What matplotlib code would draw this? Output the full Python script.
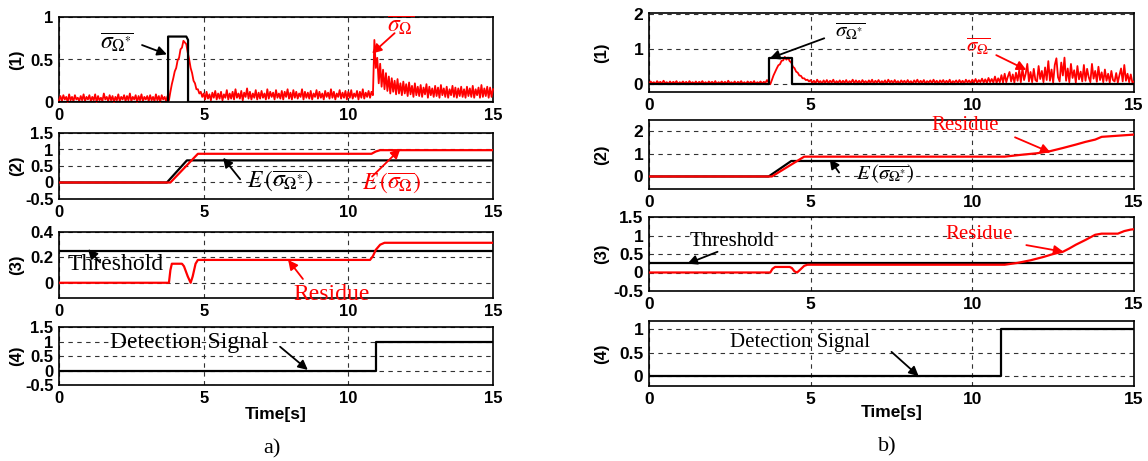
import numpy as np
import matplotlib
matplotlib.use('Agg')
import matplotlib.pyplot as plt

plt.rcParams['mathtext.fontset'] = 'stix'
plt.rcParams['font.family'] = ['Liberation Sans', 'DejaVu Sans']

# ---------------- data ----------------
time_grid = np.linspace(0, 15, 301)          # sampling grid, dt = 0.05 s
x_ticks = [0, 5, 10, 15]

# a) (1) measured sigma_Omega (red, noisy)
a_sigma = [
    0.02, 0.07, 0.01, 0.08, 0.03, 0.06, 0.00, 0.09, 0.02, 0.06, 0.01, 0.08, 0.03, 0.05, 0.01, 0.07, 0.02, 0.09, 0.01, 0.06,
    0.03, 0.08, 0.01, 0.06, 0.02, 0.09, 0.00, 0.07, 0.02, 0.05, 0.01, 0.10, 0.03, 0.06, 0.01, 0.08, 0.02, 0.07, 0.00, 0.06,
    0.02, 0.09, 0.01, 0.06, 0.03, 0.08, 0.01, 0.07, 0.02, 0.10, 0.01, 0.06, 0.03, 0.08, 0.00, 0.07, 0.02, 0.09, 0.01, 0.06,
    0.03, 0.07, 0.01, 0.08, 0.02, 0.06, 0.01, 0.09, 0.02, 0.07, 0.00, 0.08, 0.03, 0.06, 0.01, 0.07, 0.02, 0.12, 0.21, 0.28,
    0.36, 0.40, 0.49, 0.52, 0.62, 0.64, 0.72, 0.70, 0.68, 0.58, 0.50, 0.40, 0.34, 0.25, 0.22, 0.15, 0.15, 0.10, 0.12, 0.06,
    0.10, 0.03, 0.12, 0.04, 0.09, 0.02, 0.11, 0.05, 0.13, 0.03, 0.10, 0.04, 0.12, 0.02, 0.09, 0.05, 0.14, 0.03, 0.10, 0.04,
    0.12, 0.03, 0.15, 0.05, 0.10, 0.04, 0.13, 0.02, 0.11, 0.06, 0.16, 0.04, 0.12, 0.03, 0.10, 0.05, 0.14, 0.03, 0.11, 0.04,
    0.13, 0.05, 0.10, 0.03, 0.15, 0.04, 0.12, 0.06, 0.11, 0.03, 0.14, 0.05, 0.10, 0.04, 0.13, 0.03, 0.12, 0.06, 0.15, 0.04,
    0.11, 0.03, 0.14, 0.05, 0.12, 0.04, 0.10, 0.06, 0.15, 0.03, 0.12, 0.05, 0.11, 0.04, 0.13, 0.03, 0.10, 0.06, 0.14, 0.04,
    0.12, 0.05, 0.10, 0.03, 0.13, 0.06, 0.11, 0.04, 0.15, 0.05, 0.12, 0.03, 0.10, 0.06, 0.14, 0.04, 0.11, 0.05, 0.13, 0.03,
    0.12, 0.05, 0.14, 0.04, 0.10, 0.06, 0.13, 0.03, 0.12, 0.05, 0.15, 0.04, 0.11, 0.06, 0.13, 0.05, 0.12, 0.08, 0.73, 0.40,
    0.52, 0.22, 0.45, 0.18, 0.38, 0.15, 0.34, 0.13, 0.30, 0.10, 0.28, 0.12, 0.25, 0.09, 0.27, 0.10, 0.22, 0.08, 0.24, 0.10,
    0.21, 0.07, 0.23, 0.09, 0.19, 0.06, 0.22, 0.08, 0.18, 0.07, 0.20, 0.06, 0.17, 0.09, 0.21, 0.05, 0.18, 0.08, 0.16, 0.06,
    0.19, 0.07, 0.17, 0.05, 0.20, 0.08, 0.16, 0.06, 0.18, 0.05, 0.15, 0.08, 0.19, 0.06, 0.17, 0.05, 0.16, 0.07, 0.18, 0.06,
    0.15, 0.05, 0.18, 0.07, 0.16, 0.06, 0.19, 0.05, 0.15, 0.08, 0.17, 0.05, 0.20, 0.06, 0.16, 0.07, 0.18, 0.05, 0.17, 0.06,
    0.15,
]
# a) (1) reference sigma_Omega* (black step)
a_ref_t = [0, 3.77, 3.77, 4.40, 4.46, 4.46, 15]
a_ref_v = [0, 0, 0.77, 0.77, 0.73, 0, 0]
# a) (2) expectations
a_Eref_t = [0, 3.73, 4.42, 15]
a_Eref_v = [0, 0, 0.67, 0.67]
a_E_t = [0, 3.85, 4.80, 10.80, 10.95, 11.10, 15]
a_E_v = [0, 0, 0.87, 0.87, 0.94, 0.98, 0.98]
# a) (3) threshold and residue
a_thr_t = [0, 15]
a_thr_v = [0.25, 0.25]
a_res_t = [0, 3.80, 3.85, 3.90, 4.25, 4.32, 4.45, 4.55, 4.62, 4.72, 4.80, 10.75, 10.85, 10.95, 11.10, 11.25, 15]
a_res_v = [0, 0, 0.10, 0.15, 0.15, 0.13, 0.05, 0.0, 0.05, 0.15, 0.18, 0.18, 0.21, 0.26, 0.30, 0.315, 0.315]
# a) (4) detection signal
a_det_t = [0, 10.95, 10.95, 15]
a_det_v = [0, 0, 1, 1]

# b) (1) measured sigma_Omega (red, noisy)
b_sigma = [
    0.02, 0.08, 0.03, 0.06, 0.01, 0.09, 0.03, 0.07, 0.02, 0.10, 0.03, 0.06, 0.01, 0.08, 0.02, 0.07, 0.03, 0.09, 0.01, 0.06,
    0.03, 0.08, 0.02, 0.07, 0.01, 0.09, 0.03, 0.06, 0.02, 0.08, 0.01, 0.07, 0.03, 0.09, 0.02, 0.06, 0.01, 0.08, 0.03, 0.07,
    0.02, 0.09, 0.01, 0.06, 0.03, 0.08, 0.02, 0.07, 0.01, 0.10, 0.03, 0.06, 0.02, 0.08, 0.01, 0.07, 0.03, 0.09, 0.02, 0.06,
    0.01, 0.08, 0.03, 0.07, 0.02, 0.09, 0.01, 0.06, 0.03, 0.08, 0.02, 0.07, 0.04, 0.12, 0.05, 0.00, 0.12, 0.25, 0.35, 0.45,
    0.54, 0.57, 0.67, 0.68, 0.78, 0.70, 0.76, 0.66, 0.62, 0.50, 0.46, 0.36, 0.33, 0.25, 0.24, 0.17, 0.17, 0.12, 0.13, 0.08,
    0.12, 0.04, 0.10, 0.03, 0.13, 0.05, 0.09, 0.02, 0.11, 0.04, 0.12, 0.03, 0.10, 0.05, 0.13, 0.02, 0.09, 0.04, 0.11, 0.03,
    0.10, 0.04, 0.12, 0.02, 0.09, 0.05, 0.13, 0.03, 0.11, 0.04, 0.10, 0.02, 0.12, 0.05, 0.09, 0.03, 0.11, 0.04, 0.13, 0.02,
    0.10, 0.05, 0.12, 0.03, 0.09, 0.04, 0.11, 0.02, 0.13, 0.05, 0.10, 0.03, 0.12, 0.04, 0.09, 0.02, 0.11, 0.05, 0.10, 0.03,
    0.12, 0.04, 0.09, 0.02, 0.11, 0.05, 0.13, 0.03, 0.10, 0.04, 0.12, 0.02, 0.09, 0.05, 0.11, 0.03, 0.13, 0.04, 0.10, 0.02,
    0.11, 0.05, 0.12, 0.03, 0.10, 0.04, 0.13, 0.02, 0.09, 0.05, 0.11, 0.03, 0.12, 0.04, 0.10, 0.02, 0.13, 0.05, 0.11, 0.03,
    0.13, 0.05, 0.15, 0.04, 0.12, 0.06, 0.16, 0.05, 0.14, 0.04, 0.18, 0.06, 0.15, 0.05, 0.22, 0.04, 0.17, 0.06, 0.26, 0.05,
    0.30, 0.06, 0.22, 0.35, 0.08, 0.28, 0.05, 0.33, 0.10, 0.40, 0.06, 0.46, 0.12, 0.30, 0.58, 0.08, 0.35, 0.06, 0.44, 0.12,
    0.08, 0.52, 0.15, 0.38, 0.06, 0.48, 0.12, 0.66, 0.10, 0.42, 0.05, 0.55, 0.74, 0.20, 0.08, 0.62, 0.25, 0.76, 0.10, 0.45,
    0.06, 0.58, 0.18, 0.40, 0.05, 0.52, 0.14, 0.36, 0.08, 0.55, 0.10, 0.44, 0.20, 0.06, 0.58, 0.16, 0.38, 0.07, 0.50, 0.12,
    0.34, 0.06, 0.42, 0.10, 0.30, 0.05, 0.38, 0.12, 0.08, 0.32, 0.05, 0.26, 0.45, 0.08, 0.55, 0.10, 0.30, 0.06, 0.28, 0.05,
    0.08,
]
b_ref_t = [0, 3.72, 3.72, 4.42, 4.42, 15]
b_ref_v = [0, 0, 0.74, 0.74, 0, 0]
b_Eref_t = [0, 3.70, 4.40, 15]
b_Eref_v = [0, 0, 0.68, 0.68]
b_E_t = [0, 3.80, 4.80, 11.0, 11.5, 12.0, 12.4, 12.8, 13.2, 13.5, 13.8, 14.0, 14.3, 14.6, 15]
b_E_v = [0, 0, 0.87, 0.87, 0.95, 1.02, 1.11, 1.25, 1.40, 1.52, 1.62, 1.74, 1.77, 1.80, 1.84]
b_thr_t = [0, 15]
b_thr_v = [0.26, 0.26]
b_res_t = [0, 3.75, 3.82, 3.90, 4.35, 4.42, 4.50, 4.58, 4.68, 4.80, 4.90, 11.0, 11.4, 11.8, 12.2,
           12.5, 12.8, 13.0, 13.2, 13.5, 13.8, 14.0, 14.5, 14.7, 14.9, 15]
b_res_v = [0, 0, 0.10, 0.15, 0.15, 0.12, 0.03, 0.0, 0.08, 0.18, 0.21, 0.21, 0.26, 0.33, 0.42,
           0.50, 0.56, 0.65, 0.75, 0.88, 1.02, 1.05, 1.05, 1.12, 1.16, 1.17]
b_det_t = [0, 10.9, 10.9, 15]
b_det_v = [0, 0, 1, 1]

# ---------------- figure ----------------
W, H = 1148, 461
fig = plt.figure(figsize=(W / 100, H / 100), dpi=100)
RED = '#ff0000'
SERIF = ['Liberation Serif', 'DejaVu Serif']


def add_ax(x0, x1, y0, y1, ylim, yticks, fs):
    ax = fig.add_axes([x0 / W, 1 - y1 / H, (x1 - x0) / W, (y1 - y0) / H])
    ax.set_xlim(0, 15)
    ax.set_ylim(*ylim)
    ax.set_xticks(x_ticks)
    ax.set_yticks(yticks)
    ax.set_xticklabels([str(v) for v in x_ticks])
    ax.set_yticklabels([('%g' % v) for v in yticks])
    ax.tick_params(length=0, pad=4, labelsize=fs)
    for lab in ax.get_xticklabels() + ax.get_yticklabels():
        lab.set_fontweight('bold')
    ax.grid(True, color='0.2', lw=0.8, ls=(0, (4, 4)))
    for s in ax.spines.values():
        s.set_linewidth(1.2)
    return ax


def arrow(ax, head, tail, color, ms=14):
    ax.annotate('', xy=head, xytext=tail,
                arrowprops=dict(arrowstyle='-|>', color=color, lw=1.3,
                                mutation_scale=ms, shrinkA=0, shrinkB=0),
                annotation_clip=False)


# ---- panel a ----
LX0, LX1 = 59, 493
fsa = 12
a1 = add_ax(LX0, LX1, 17, 102, (0, 1), [0, 0.5, 1], fsa)
a2 = add_ax(LX0, LX1, 133, 199, (-0.5, 1.5), [-0.5, 0, 0.5, 1, 1.5], fsa)
a3 = add_ax(LX0, LX1, 232, 298, (-0.12, 0.4), [0, 0.2, 0.4], fsa)
a4 = add_ax(LX0, LX1, 327, 385, (-0.5, 1.5), [-0.5, 0, 0.5, 1, 1.5], fsa)

a1.plot(time_grid, a_sigma, color=RED, lw=1.3, clip_on=False, zorder=3)
a1.plot(a_ref_t, a_ref_v, color='k', lw=1.6, zorder=4)
a2.plot(a_Eref_t, a_Eref_v, color='k', lw=1.6, zorder=3)
a2.plot(a_E_t, a_E_v, color=RED, lw=1.6, zorder=4)
a3.plot(a_thr_t, a_thr_v, color='k', lw=1.6, zorder=3)
a3.plot(a_res_t, a_res_v, color=RED, lw=1.6, zorder=4)
a4.plot(a_det_t, a_det_v, color='k', lw=1.6, zorder=3)

fa = 17
a1.text(1.42, 0.70, r'$\overline{\sigma_{\Omega^{*}}}$', fontsize=fa, color='k', va='center', ha='left')
arrow(a1, (3.73, 0.56), (2.87, 0.67), 'k')
a1.text(11.8, 0.90, r'$\overline{\sigma_{\Omega}}$', fontsize=fa, color=RED, va='center', ha='center')
arrow(a1, (10.82, 0.57), (11.6, 0.81), RED)

a2.text(6.5, 0.05, r'$E\,(\overline{\sigma_{\Omega^{*}}})$', fontsize=fa, color='k', va='center', ha='left')
arrow(a2, (5.67, 0.75), (6.26, 0.10), 'k')
a2.text(10.47, -0.02, r'$E\,(\overline{\sigma_{\Omega}})$', fontsize=fa, color=RED, va='center', ha='left')
arrow(a2, (11.8, 1.02), (10.82, 0.18), RED)

a3.text(0.31, 0.144, 'Threshold', fontsize=fa, family=SERIF, color='k', va='center', ha='left')
arrow(a3, (1.0, 0.265), (1.42, 0.16), 'k')
a3.text(8.09, -0.09, 'Residue', fontsize=fa, family=SERIF, color=RED, va='center', ha='left')
arrow(a3, (7.92, 0.18), (8.43, 0.03), RED)

a4.text(1.76, 0.96, 'Detection Signal', fontsize=fa, family=SERIF, color='k', va='center', ha='left')
arrow(a4, (8.6, 0.02), (7.64, 0.82), 'k')

# ---- panel b ----
RX0, RX1 = 649, 1134
fsb = 12.5
b1 = add_ax(RX0, RX1, 13, 92, (-0.22, 2.03), [0, 1, 2], fsb)
b2 = add_ax(RX0, RX1, 120, 189, (-0.55, 2.48), [0, 1, 2], fsb)
b3 = add_ax(RX0, RX1, 217, 291, (-0.5, 1.5), [-0.5, 0, 0.5, 1, 1.5], fsb)
b4 = add_ax(RX0, RX1, 321, 386, (-0.21, 1.18), [0, 0.5, 1], fsb)

b1.plot(time_grid, b_sigma, color=RED, lw=1.3, zorder=3)
b1.plot(b_ref_t, b_ref_v, color='k', lw=1.6, zorder=4)
b2.plot(b_Eref_t, b_Eref_v, color='k', lw=1.6, zorder=3)
b2.plot(b_E_t, b_E_v, color=RED, lw=1.6, zorder=4)
b3.plot(b_thr_t, b_thr_v, color='k', lw=1.6, zorder=3)
b3.plot(b_res_t, b_res_v, color=RED, lw=1.6, zorder=4)
b4.plot(b_det_t, b_det_v, color='k', lw=1.6, zorder=3)

fb = 15
b1.text(5.76, 1.5, r'$\overline{\sigma_{\Omega^{*}}}$', fontsize=fb, color='k', va='center', ha='left')
arrow(b1, (3.74, 0.74), (5.42, 1.31), 'k')
b1.text(9.81, 1.07, r'$\overline{\sigma_{\Omega}}$', fontsize=fb, color=RED, va='center', ha='left')
arrow(b1, (11.67, 0.41), (10.74, 0.83), RED)

b2.text(8.72, 2.26, 'Residue', fontsize=fb, family=SERIF, color=RED, va='center', ha='left')
arrow(b2, (12.42, 1.05), (11.32, 1.72), RED)
b2.text(6.4, 0.12, r'$E\,(\overline{\sigma_{\Omega^{*}}})$', fontsize=fb, color='k', va='center', ha='left')
arrow(b2, (5.59, 0.76), (5.88, 0.17), 'k')

b3.text(1.25, 0.83, 'Threshold', fontsize=fb, family=SERIF, color='k', va='center', ha='left')
arrow(b3, (1.19, 0.24), (2.12, 0.56), 'k')
b3.text(9.18, 1.02, 'Residue', fontsize=fb, family=SERIF, color=RED, va='center', ha='left')
arrow(b3, (12.82, 0.56), (11.67, 0.74), RED)

b4.text(2.52, 0.73, 'Detection Signal', fontsize=fb, family=SERIF, color='k', va='center', ha='left')
arrow(b4, (8.34, 0.0), (7.5, 0.52), 'k')

# ---- labels ----
for i, (ax_l, ax_r) in enumerate(zip([a1, a2, a3, a4], [b1, b2, b3, b4])):
    for ax, xpix in ((ax_l, 17), (ax_r, 602)):
        bb = ax.get_position()
        fig.text(xpix / W, bb.y0 + bb.height / 2, '(%d)' % (i + 1), rotation=90,
                 ha='center', va='center', fontsize=12, fontweight='bold')

fig.text((LX0 + LX1) / 2 / W, 1 - 414 / H, 'Time[s]', ha='center', va='center', fontsize=12.5, fontweight='bold')
fig.text((RX0 + RX1) / 2 / W, 1 - 412 / H, 'Time[s]', ha='center', va='center', fontsize=12.5, fontweight='bold')
fig.text(272 / W, 1 - 449 / H, 'a)', ha='center', va='center', fontsize=16, family=SERIF)
fig.text(887 / W, 1 - 447 / H, 'b)', ha='center', va='center', fontsize=16, family=SERIF)

fig.savefig('out.png', dpi=100, facecolor='white')
